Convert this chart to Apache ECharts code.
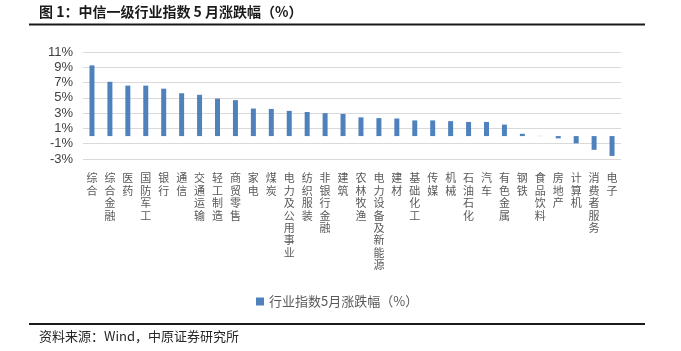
<html>
  <head>
    <meta charset="utf-8">
    <title>中信一级行业指数5月涨跌幅</title>
    <script src="https://cdn.jsdelivr.net/npm/echarts@6.0.0/dist/echarts.min.js"></script>
    <style>
      html, body { margin: 0; padding: 0; background: #fff; }
      #main { width: 681px; height: 351px; }
    </style>
  </head>
  <body>
    <div id="main"></div>
    <script type="text/javascript">
      // 行业名称
      var industries = ['综合', '综合金融', '医药', '国防军工', '银行', '通信', '交通运输', '轻工制造',
        '商贸零售', '家电', '煤炭', '电力及公用事业', '纺织服装', '非银行金融', '建筑', '农林牧渔',
        '电力设备及新能源', '建材', '基础化工', '传媒', '机械', '石油石化', '汽车', '有色金属',
        '钢铁', '食品饮料', '房地产', '计算机', '消费者服务', '电子'];
      // 5月涨跌幅 (%)
      var changes = [9.25, 7.1, 6.6, 6.6, 6.2, 5.6, 5.4, 4.9,
        4.7, 3.6, 3.55, 3.3, 3.15, 3.0, 2.9, 2.45,
        2.35, 2.3, 2.05, 2.05, 1.95, 1.85, 1.85, 1.5,
        0.3, 0.02, -0.3, -0.95, -1.8, -2.6];
      var yTicks = [-3, -1, 1, 3, 5, 7, 9, 11];
      var seriesName = '行业指数5月涨跌幅（%）';

      var cjk = '"Noto Sans CJK SC", "Noto Sans", sans-serif';
      var chart = echarts.init(document.getElementById('main'));

      var option = {
        animation: false,
        backgroundColor: '#ffffff',
        grid: { left: 83, right: 60, top: 52, bottom: 192 },
        legend: {
          data: [seriesName],
          left: 251,
          top: 290,
          icon: 'rect',
          itemWidth: 8,
          itemHeight: 8,
          itemGap: 6,
          textStyle: { fontSize: 13, color: '#595959', fontFamily: cjk }
        },
        xAxis: {
          type: 'category',
          data: industries,
          axisLine: { show: false },
          axisTick: { show: false },
          axisLabel: {
            interval: 0,
            margin: 13,
            fontSize: 11,
            lineHeight: 12.4,
            color: '#595959',
            fontFamily: cjk,
            verticalAlign: 'top',
            formatter: function (v) { return v.split('').join('\n'); }
          }
        },
        yAxis: {
          type: 'value',
          min: yTicks[0],
          max: yTicks[yTicks.length - 1],
          interval: 2,
          axisLine: { show: false },
          axisTick: { show: false },
          splitLine: { lineStyle: { color: '#d9d9d9', width: 1 } },
          axisLabel: {
            margin: 10,
            fontSize: 13,
            color: '#404040',
            fontFamily: '"Liberation Sans", Arial, sans-serif',
            formatter: '{value}%'
          }
        },
        series: [{
          name: seriesName,
          type: 'bar',
          data: changes,
          barWidth: 5,
          itemStyle: { color: '#4f81bd' }
        }],
        graphic: [
          {
            type: 'text', left: 39, top: 5,
            style: {
              text: '图 1：中信一级行业指数 5 月涨跌幅（%）',
              fontSize: 14, fontWeight: 'bold', fill: '#1a1a1a', fontFamily: cjk
            }
          },
          {
            type: 'line',
            shape: { x1: 29, y1: 24.5, x2: 645, y2: 24.5 },
            style: { stroke: '#1a1a1a', lineWidth: 2 }
          },
          {
            type: 'line',
            shape: { x1: 29, y1: 324, x2: 645, y2: 324 },
            style: { stroke: '#1a1a1a', lineWidth: 2 }
          },
          {
            type: 'text', left: 39, top: 330,
            style: {
              text: '资料来源：Wind，中原证券研究所',
              fontSize: 13, fill: '#262626', fontFamily: cjk
            }
          }
        ]
      };

      chart.setOption(option);
    </script>
  </body>
</html>
